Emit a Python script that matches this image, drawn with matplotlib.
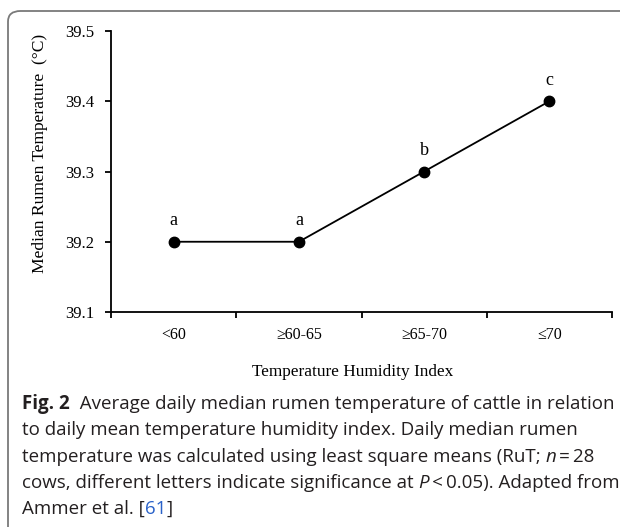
import numpy as np
import matplotlib
matplotlib.use('Agg')
import matplotlib.pyplot as plt
from matplotlib.patches import FancyBboxPatch
from matplotlib import font_manager

# data
categories = ['<60', '≥60-65', '≥65-70', '≤70']
rumen_temp = [39.2, 39.2, 39.3, 39.4]
letters = ['a', 'a', 'b', 'c']
yticks = [39.1, 39.2, 39.3, 39.4, 39.5]

caption = [
    [('Fig. 2', 'bold', 'normal', '#231f20'),
     ('  Average daily median rumen temperature of cattle in relation', 'normal', 'normal', '#231f20')],
    [('to daily mean temperature humidity index. Daily median rumen', 'normal', 'normal', '#231f20')],
    [('temperature was calculated using least square means (RuT; ', 'normal', 'normal', '#231f20'),
     ('n', 'normal', 'italic', '#231f20'),
     ('\u2009=\u200928', 'normal', 'normal', '#231f20')],
    [('cows, different letters indicate significance at ', 'normal', 'normal', '#231f20'),
     ('P', 'normal', 'italic', '#231f20'),
     ('\u2009<\u20090.05). Adapted from', 'normal', 'normal', '#231f20')],
    [('Ammer et al. [', 'normal', 'normal', '#231f20'),
     ('61', 'normal', 'normal', '#2a62c9'),
     (']', 'normal', 'normal', '#231f20')],
]

W, H = 620, 527
serif = 'Liberation Serif'
names = {f.name for f in font_manager.fontManager.ttflist}
cap_font = 'Liberation Sans Narrow' if 'Liberation Sans Narrow' in names else 'Open Sans'

fig = plt.figure(figsize=(W / 100, H / 100), dpi=100)
fig.patch.set_facecolor('white')

# rounded frame round the chart (runs off the right and bottom edges)
frame = FancyBboxPatch((8 / W, -0.2), 1.2, 1 - 11 / H + 0.2,
                       boxstyle='round,pad=0,rounding_size=0.02',
                       transform=fig.transFigure, fill=False,
                       edgecolor='#7a7a7a', linewidth=1.3)
fig.patches.append(frame)

ax = fig.add_axes([111 / W, 1 - 312 / H, (612 - 111) / W, (312 - 31) / H])
x = np.arange(len(categories))
ax.plot(x, rumen_temp, color='black', lw=1.3, marker='o', ms=7.5, zorder=3, clip_on=False)
for xi, yi, t in zip(x, rumen_temp, letters):
    ax.annotate(t, (xi, yi), xytext=(0, 9), textcoords='offset points',
                ha='center', va='bottom', fontsize=13, family=serif)

ax.set_xlim(-0.5, len(categories) - 0.5)
ax.set_ylim(39.1, 39.5)
ax.set_xticks(np.arange(len(categories) + 1) - 0.5)
ax.set_xticklabels([])
ax.set_xticks(x, minor=True)
ax.set_xticklabels(categories, minor=True, fontsize=11.5, family=serif)
ax.tick_params(axis='x', which='minor', length=0, pad=11)
ax.tick_params(axis='x', which='major', length=4, width=1.3, direction='out')
ax.set_yticks(yticks)
ax.set_yticklabels(['%.1f' % v for v in yticks], fontsize=12, family=serif)
ax.tick_params(axis='y', length=4, width=1.3, pad=8)
for s in ['top', 'right']:
    ax.spines[s].set_visible(False)
for s in ['left', 'bottom']:
    ax.spines[s].set_linewidth(1.3)

fig.text(40 / W, 1 - 153 / H, 'Median Rumen Temperature  (°C)', rotation=90,
         ha='center', va='center', fontsize=12.6, family=serif)
fig.text(353 / W, 1 - 372 / H, 'Temperature Humidity Index',
         ha='center', va='center', fontsize=12.4, family=serif)

# caption, drawn piece by piece so the bold/italic/blue bits line up
renderer = fig.canvas.get_renderer()
size = 13.5
for i, line in enumerate(caption):
    xpos = 22
    ypos = 404 + i * 26.3
    for text, weight, style, color in line:
        t = fig.text(xpos / W, 1 - ypos / H, text, fontsize=size, fontweight=weight,
                     fontstyle=style, color=color, family=[cap_font, 'DejaVu Sans'],
                     ha='left', va='center')
        xpos += t.get_window_extent(renderer).width

fig.savefig('out.png', dpi=100)
